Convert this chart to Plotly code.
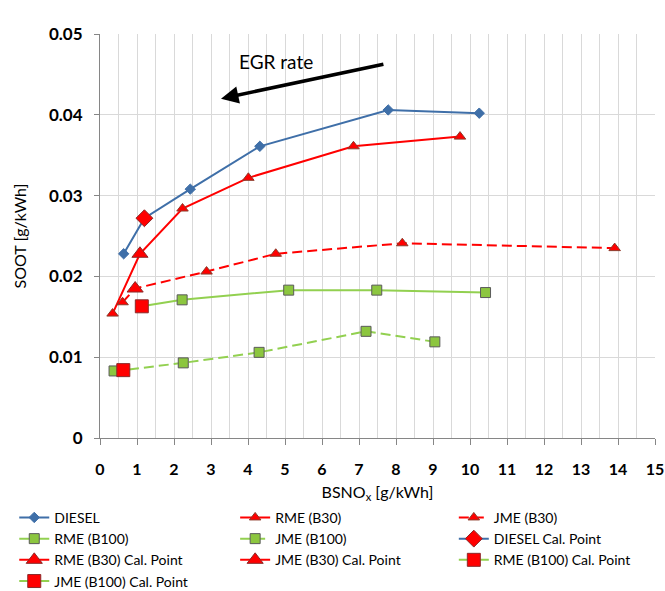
import plotly.graph_objects as go

# Data (BSNOx [g/kWh], SOOT [g/kWh])
diesel_x = [0.64, 1.20, 2.44, 4.32, 7.79, 10.25]
diesel_y = [0.0228, 0.0272, 0.0308, 0.0361, 0.0406, 0.0402]
rme_b30_x = [0.34, 1.08, 2.23, 4.01, 6.85, 9.73]
rme_b30_y = [0.0154, 0.0228, 0.0284, 0.0322, 0.0361, 0.0373]
jme_b30_x = [0.61, 0.95, 2.88, 4.75, 8.17, 13.91]
jme_b30_y = [0.0168, 0.0185, 0.0206, 0.0228, 0.0241, 0.0235]
rme_b100_x = [1.13, 2.22, 5.10, 7.48, 10.42]
rme_b100_y = [0.0163, 0.0171, 0.0183, 0.0183, 0.0180]
jme_b100_x = [0.38, 0.63, 2.25, 4.30, 7.19, 9.05]
jme_b100_y = [0.0083, 0.0084, 0.0093, 0.0106, 0.0132, 0.0119]

cal_diesel = (1.20, 0.0272)
cal_rme_b30 = (1.08, 0.0228)
cal_jme_b30 = (0.95, 0.0185)
cal_rme_b100 = (1.13, 0.0163)
cal_jme_b100 = (0.63, 0.0084)

BLUE = "#3F6FA8"
RED = "#FF0000"
GREEN = "#92D050"
SQ_FILL = "#8CC63F"
FONT = "Lato"

fig = go.Figure()

def series(x, y, name, color, symbol, size, fill, outline, legend, dash="solid"):
    fig.add_trace(go.Scatter(
        x=x, y=y, name=name, mode="lines+markers", legend=legend,
        line=dict(color=color, width=2, dash=dash),
        marker=dict(symbol=symbol, size=size, color=fill,
                    line=dict(color=outline, width=1)),
    ))

def cal(pt, name, color, symbol, size, legend):
    fig.add_trace(go.Scatter(
        x=[pt[0]], y=[pt[1]], name=name, mode="lines+markers", legend=legend,
        line=dict(color=color, width=2),
        marker=dict(symbol=symbol, size=size, color=RED,
                    line=dict(color="#8B2A2A", width=1)),
    ))

series(diesel_x, diesel_y, "DIESEL", BLUE, "diamond", 8, BLUE, BLUE, "legend")
series(rme_b30_x, rme_b30_y, "RME (B30)", RED, "triangle-up", 10, RED, "#8B3A2A", "legend2")
series(jme_b30_x, jme_b30_y, "JME (B30)", RED, "triangle-up", 10, RED, "#8B3A2A", "legend3", dash="10px,5px")
series(rme_b100_x, rme_b100_y, "RME (B100)", GREEN, "square", 10, SQ_FILL, "#5A5A5A", "legend")
series(jme_b100_x, jme_b100_y, "JME (B100)", GREEN, "square", 10, SQ_FILL, "#5A5A5A", "legend2", dash="10px,5px")

cal(cal_diesel, "DIESEL Cal. Point", BLUE, "diamond", 13, "legend3")
cal(cal_rme_b30, "RME (B30) Cal. Point", RED, "triangle-up", 14, "legend")
cal(cal_jme_b30, "JME (B30) Cal. Point", RED, "triangle-up", 14, "legend2")
cal(cal_rme_b100, "RME (B100) Cal. Point", GREEN, "square", 13, "legend3")
cal(cal_jme_b100, "JME (B100) Cal. Point", GREEN, "square", 13, "legend")

fig.add_annotation(
    x=3.27, y=0.0420, ax=7.70, ay=0.0463, xref="x", yref="y", axref="x", ayref="y",
    showarrow=True, arrowhead=2, arrowsize=1.0, arrowwidth=3.5, arrowcolor="black", text="",
)
fig.add_annotation(
    x=4.76, y=0.0466, xref="x", yref="y", text="EGR rate", showarrow=False,
    font=dict(family=FONT, size=19, color="black"),
)

def legend_at(x):
    return dict(
        orientation="v", x=x, xanchor="left", y=-0.158, yanchor="top",
        font=dict(family=FONT, size=14, color="black"),
        itemwidth=30, tracegroupgap=0, traceorder="normal",
        bgcolor="rgba(0,0,0,0)",
    )

fig.update_layout(
    width=665, height=591,
    margin=dict(l=100, r=10, t=34, b=153, autoexpand=False),
    paper_bgcolor="white", plot_bgcolor="white",
    font=dict(family=FONT, color="black"),
    showlegend=True,
    legend=legend_at(-0.1545),
    legend2=legend_at(0.2435),
    legend3=legend_at(0.6375),
    xaxis=dict(
        range=[0, 15], dtick=1, tick0=0,
        showgrid=True, gridcolor="#D9D9D9", gridwidth=1,
        minor=dict(dtick=0.5, showgrid=True, gridcolor="#D9D9D9"),
        showline=True, linecolor="#868686", linewidth=1,
        ticks="outside", ticklen=6, tickcolor="#868686",
        ticklabelstandoff=11,
        tickfont=dict(family=FONT, size=16, color="black", weight="bold"),
        title=dict(text="BSNO<sub>x</sub> [g/kWh]", font=dict(family=FONT, size=16), standoff=9),
        zeroline=False,
    ),
    yaxis=dict(
        range=[0, 0.05], dtick=0.01, tick0=0,
        showgrid=True, gridcolor="#D9D9D9", gridwidth=1,
        showline=True, linecolor="#868686", linewidth=1,
        ticks="outside", ticklen=5, tickcolor="#868686",
        ticklabelstandoff=8,
        tickfont=dict(family=FONT, size=17, color="black", weight="bold"),
        title=dict(text="SOOT [g/kWh]", font=dict(family=FONT, size=16), standoff=18),
        zeroline=False,
    ),
)

fig.write_html(
    "out.html",
    config={"displayModeBar": False},
    post_script="document.body.style.margin='0';document.body.style.overflow='hidden';",
)
